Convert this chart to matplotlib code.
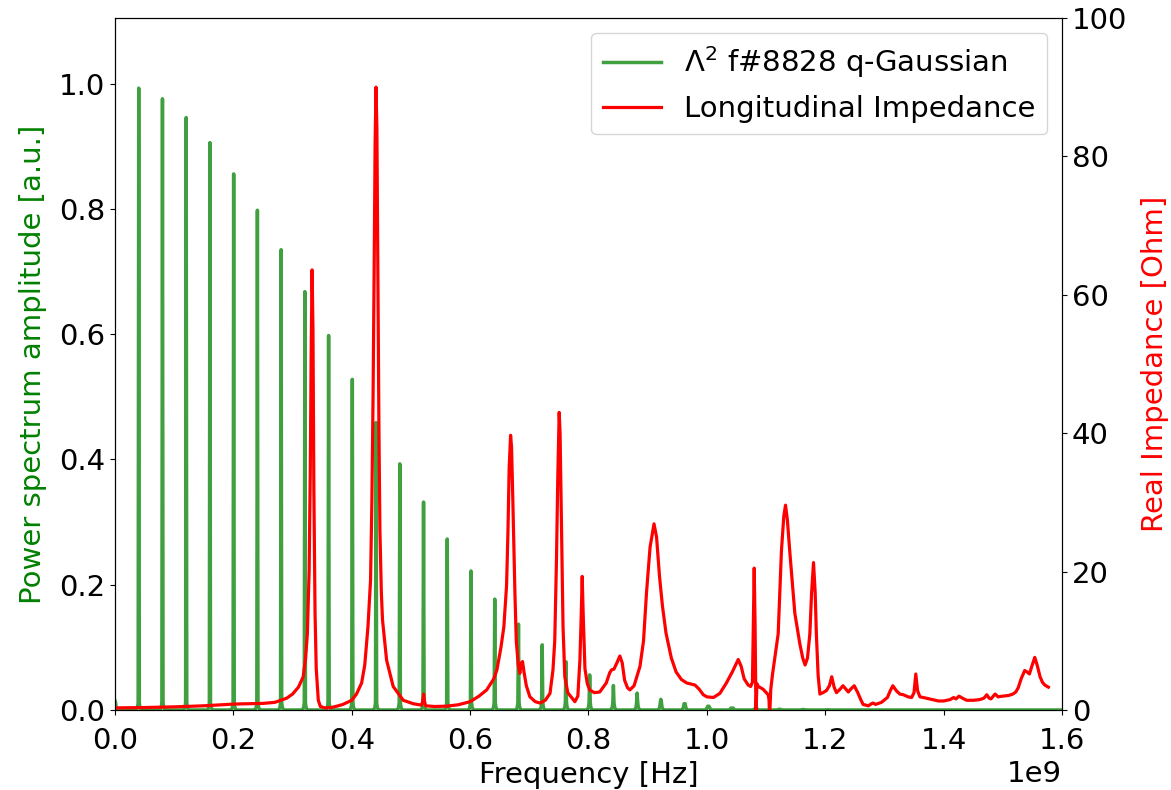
import numpy as np
import matplotlib
matplotlib.use("Agg")
import matplotlib.pyplot as plt

# ---------------- data ----------------
# Beam power spectrum: harmonic line frequencies [GHz] and amplitudes [a.u.]
harm_freq_ghz = [0.0000, 0.0401, 0.0802, 0.1203, 0.1604, 0.2005, 0.2406, 0.2807,
                 0.3208, 0.3609, 0.4010, 0.4411, 0.4812, 0.5213, 0.5614, 0.6015,
                 0.6416, 0.6817, 0.7218, 0.7619, 0.8020, 0.8421, 0.8822, 0.9223,
                 0.9624, 1.0025, 1.0426, 1.0827, 1.1228, 1.1629, 1.2030]
harm_amp = [0.015, 0.993, 0.976, 0.946, 0.906, 0.856, 0.798, 0.735,
            0.668, 0.598, 0.528, 0.459, 0.393, 0.332, 0.273, 0.222,
            0.177, 0.137, 0.104, 0.077, 0.056, 0.039, 0.027, 0.017,
            0.010, 0.006, 0.003, 0.002, 0.001, 0.0006, 0.0003]
spec_end_ghz = 1.60

# Real part of longitudinal impedance: frequency [GHz], value [Ohm]
imp_freq_ghz = [
    0.000, 0.050, 0.100, 0.150, 0.200, 0.250, 0.270, 0.290, 0.300, 0.310,
    0.318, 0.322, 0.325, 0.328, 0.330, 0.3315, 0.3330, 0.3345, 0.336, 0.338,
    0.340, 0.3435, 0.347, 0.355, 0.365, 0.375, 0.385, 0.395, 0.400, 0.408,
    0.4167, 0.422, 0.4274, 0.4318, 0.434, 0.436, 0.438, 0.4395, 0.441, 0.4425,
    0.444, 0.446, 0.4476, 0.450, 0.452, 0.4589, 0.470, 0.487, 0.504, 0.518,
    0.520, 0.5215, 0.523, 0.525, 0.540, 0.560, 0.580, 0.600, 0.615, 0.628,
    0.640, 0.6453, 0.652, 0.657, 0.6616, 0.664, 0.666, 0.6684, 0.670, 0.672,
    0.6757, 0.678, 0.6813, 0.684, 0.6865, 0.6886, 0.691, 0.695, 0.701, 0.710,
    0.718, 0.727, 0.735, 0.740, 0.743, 0.746, 0.748, 0.7505, 0.752, 0.7545,
    0.757, 0.760, 0.765, 0.777, 0.782, 0.7855, 0.7875, 0.7894, 0.791, 0.794,
    0.798, 0.802, 0.810, 0.819, 0.830, 0.836, 0.839, 0.843, 0.848, 0.853,
    0.857, 0.861, 0.866, 0.870, 0.877, 0.887, 0.893, 0.898, 0.904, 0.9107,
    0.915, 0.920, 0.925, 0.931, 0.940, 0.948, 0.957, 0.966, 0.975, 0.980,
    0.987, 0.994, 1.000, 1.011, 1.022, 1.033, 1.043, 1.053, 1.058, 1.063,
    1.0698, 1.074, 1.077, 1.0785, 1.0800, 1.0815, 1.083, 1.0845, 1.087, 1.095,
    1.1036, 1.105, 1.106, 1.108, 1.111, 1.1205, 1.126, 1.130, 1.1329, 1.136,
    1.140, 1.1486, 1.157, 1.162, 1.166, 1.170, 1.174, 1.177, 1.1802, 1.183,
    1.185, 1.188, 1.191, 1.196, 1.202, 1.207, 1.211, 1.215, 1.219, 1.225,
    1.230, 1.235, 1.239, 1.244, 1.249, 1.255, 1.260, 1.264, 1.273, 1.278,
    1.281, 1.285, 1.295, 1.305, 1.310, 1.3142, 1.320, 1.326, 1.332, 1.340,
    1.346, 1.350, 1.353, 1.356, 1.360, 1.371, 1.381, 1.391, 1.400, 1.411,
    1.417, 1.421, 1.426, 1.432, 1.439, 1.450, 1.461, 1.468, 1.473, 1.477,
    1.480, 1.484, 1.487, 1.492, 1.500, 1.510, 1.517, 1.522, 1.526, 1.531,
    1.537, 1.541, 1.545, 1.549, 1.554, 1.558, 1.563, 1.567, 1.571, 1.577]
imp_re_ohm = [
    0.3, 0.35, 0.45, 0.6, 0.85, 0.95, 1.1, 1.7, 2.3, 3.3,
    4.8, 7.5, 11.0, 20.0, 35.0, 52.0, 63.6, 55.0, 32.0, 14.0,
    6.0, 1.4, 0.5, 0.3, 0.35, 0.55, 0.8, 1.2, 1.4, 2.3,
    3.9, 6.5, 12.0, 18.8, 30.0, 45.0, 65.0, 82.0, 90.0, 84.0,
    66.0, 40.0, 26.0, 17.0, 13.0, 7.2, 3.4, 1.4, 0.9, 0.7,
    1.3, 2.3, 1.2, 0.6, 0.5, 0.55, 0.75, 1.2, 2.0, 2.9,
    4.5, 5.8, 9.0, 12.0, 18.0, 26.0, 35.0, 39.7, 38.0, 31.0,
    16.9, 10.0, 6.5, 5.3, 6.8, 7.0, 5.5, 3.5, 1.9, 1.2,
    1.0, 1.4, 2.4, 5.8, 10.0, 22.0, 33.0, 43.0, 40.0, 26.0,
    12.0, 4.8, 2.5, 1.2, 2.0, 7.2, 13.0, 19.3, 14.0, 6.0,
    3.8, 2.9, 2.5, 2.6, 3.9, 5.4, 5.8, 5.9, 6.8, 7.8,
    6.8, 4.3, 3.2, 2.9, 3.5, 6.3, 10.0, 16.9, 23.5, 26.9,
    25.0, 19.3, 15.0, 11.1, 7.5, 5.5, 4.4, 3.9, 3.7, 3.6,
    3.0, 2.2, 1.9, 1.8, 2.4, 3.9, 5.5, 7.3, 6.3, 4.5,
    3.6, 3.4, 4.0, 12.0, 20.5, 12.0, -1.0, 3.8, 3.4, 3.0,
    2.2, 1.5, -1.0, 3.0, 5.2, 11.0, 23.0, 28.0, 29.6, 27.5,
    23.0, 14.0, 9.6, 7.5, 6.5, 7.5, 11.0, 17.0, 21.3, 17.0,
    11.0, 5.0, 2.3, 2.5, 2.8, 3.5, 4.8, 3.3, 2.5, 3.0,
    3.5, 3.0, 2.6, 3.1, 3.5, 2.5, 1.5, 0.8, 0.6, 0.9,
    1.0, 0.8, 1.1, 1.8, 2.8, 3.5, 2.8, 2.3, 2.2, 1.9,
    1.8, 2.5, 5.2, 2.8, 1.9, 1.7, 1.5, 1.3, 1.3, 1.5,
    1.8, 1.6, 2.0, 1.7, 1.4, 1.4, 1.5, 1.7, 2.2, 1.7,
    1.6, 2.0, 2.3, 1.9, 2.0, 2.1, 2.3, 2.6, 3.2, 4.5,
    5.7, 5.5, 5.2, 6.3, 7.6, 6.5, 4.8, 4.0, 3.6, 3.3]

spec_label = r"$\Lambda^2$ f#8828 q-Gaussian"
imp_label = "Longitudinal Impedance"
xlabel = "Frequency [Hz]"
ylabel_left = "Power spectrum amplitude [a.u.]"
ylabel_right = "Real Impedance [Ohm]"

# ---------------- build spectrum line (narrow spikes on zero baseline) ----------------
foot_dx = [-0.0045, -0.002, -0.001, 0.0, 0.001, 0.002, 0.0045]   # shape of each spike (style)
foot_fr = [0.0, 0.004, 0.012, None, 0.012, 0.004, 0.0]
sx, sy = [], []
for f, a in zip(harm_freq_ghz, harm_amp):
    for dx, fr in zip(foot_dx, foot_fr):
        xx = f + dx
        if xx < 0:
            continue
        sx.append(xx)
        sy.append(a if fr is None else min(fr, a))
sx.append(spec_end_ghz)
sy.append(0.0)
sx = np.array(sx) * 1e9
sy = np.array(sy)

imp_x = np.array(imp_freq_ghz) * 1e9
imp_y = np.array(imp_re_ohm)

# ---------------- plot ----------------
FS = 21
plt.rcParams["font.size"] = FS
fig, ax1 = plt.subplots(figsize=(11.71, 7.90), dpi=100)
fig.subplots_adjust(left=0.0982, right=0.9069, top=0.9772, bottom=0.1013)

l1, = ax1.plot(sx, sy, color="g", alpha=0.75, lw=2.5, label=spec_label)
ax1.set_xlim(0, 1.6e9)
ax1.set_ylim(0, 1.105)
ax1.set_xlabel(xlabel, fontsize=FS)
ax1.set_ylabel(ylabel_left, color="green", fontsize=FS, labelpad=9)
ax1.tick_params(labelsize=FS)
ax1.tick_params(axis="x", pad=9)
ax1.xaxis.get_offset_text().set_fontsize(FS)

ax2 = ax1.twinx()
l2, = ax2.plot(imp_x, imp_y, color="red", lw=2.3, label=imp_label)
ax2.set_ylim(0, 100)
ax2.set_ylabel(ylabel_right, color="red", fontsize=FS, labelpad=10)
ax2.tick_params(labelsize=FS)

ax2.legend(handles=[l1, l2], loc="upper right", fontsize=FS)

fig.savefig("out.png", dpi=100)
